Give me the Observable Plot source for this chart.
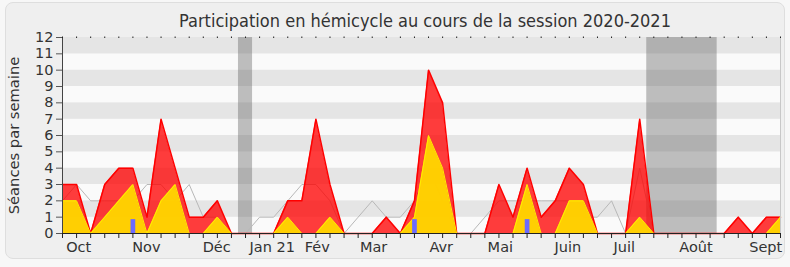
<!DOCTYPE html>
<html><head><meta charset="utf-8">
<script src="https://cdn.jsdelivr.net/npm/d3@7"></script>
<script src="https://cdn.jsdelivr.net/npm/@observablehq/plot@0.6"></script>
<style>
html,body{margin:0;padding:0;background:#f7f7f7;}
body{width:790px;height:267px;overflow:hidden;position:relative;font-family:"DejaVu Sans",sans-serif;}
#panel{position:absolute;left:5px;top:2px;width:778px;height:255px;background:#efefef;border:1px solid #dedede;border-radius:8px;}
#chart{position:relative;}
#title{height:17px;padding-top:11px;line-height:20px;font-size:18px;color:#333;text-align:center;padding-left:60px;white-space:nowrap;font-family:"DejaVu Sans Condensed","DejaVu Sans",sans-serif;font-stretch:condensed;}
#title span{display:inline-block;}
svg{display:block;}
</style></head><body>
<div id="panel"></div>
<div id="chart"><div id="title"><span id="tt">Participation en hémicycle au cours de la session 2020-2021</span></div></div>
<script>
// Weekly values, week 0 = first week of October 2020
const presence      = [3,3,0,3,4,4,1,7,4,1, 1,2,0,0,0,0,2,2,7,3, 0,0,0,1,0,2,10,8,0,0, 0,3,1,4,1,2,4,3,0,0, 0,7,0,0,0,0,0,0,1,0, 1,1];
const interventions = [2,2,0,1,2,3,0,2,3,0, 0,1,0,0,0,0,1,0,0,1, 0,0,0,0,0,1,6,4,0,0, 0,0,0,3,0,0,2,2,0,0, 0,1,0,0,0,0,0,0,0,0, 0,1];
const mediane       = [2,3,2,2,2,2,3,3,2,3, 1,1,0,0,1,1,2,3,3,2, 0,1,2,1,1,2,4,2,0,0, 1,2,2,2,2,2,2,1,1,2, 0,4,0,0,0,0,0,0,0,0, 0,0];
const questionWeeks = [5, 25, 33];
const questionValues = [0.85, 0.85, 0.85];
const vacationStart = [12.5, 41.5];
const vacationEnd   = [13.5, 46.5];
const monthWeeks  = [1.15, 5.96, 10.95, 14.9, 18.1, 22.1, 26.9, 31.1, 35.9, 39.9, 45, 49.95];
const monthLabels = ["Oct","Nov","Déc","Jan 21","Fév","Mar","Avr","Mai","Juin","Juil","Août","Sept"];
const yTicks = [0,1,2,3,4,5,6,7,8,9,10,11,12];

// keep the title at the reference's width whichever DejaVu variant is present
const tt = document.getElementById("tt");
if (tt.getBoundingClientRect().width > 505) {
  document.getElementById("title").style.fontSize = "16.3px";
}

const data = presence.map((p, i) => ({week: i, presence: p, interventions: interventions[i], mediane: mediane[i]}));
const weekTicks = data.map(d => d.week);
const questions = questionWeeks.map((w, i) => ({week: w, n: questionValues[i]}));
const vacances = vacationStart.map((s, i) => ({debut: s, fin: vacationEnd[i]}));
const bands = yTicks.slice(0, -1);
const monthMap = new Map(monthWeeks.map((w, i) => [w, monthLabels[i]]));
const last = presence.length - 1;

const chart = Plot.plot({
  width: 790, height: 239,
  marginLeft: 62, marginRight: 10, marginTop: 9, marginBottom: 34,
  style: {background: "transparent", fontFamily: "DejaVu Sans", fontSize: "14.5px", color: "#333", overflow: "visible"},
  x: {domain: [0, last], label: null},
  y: {domain: [0, 12], label: null},
  marks: [
    Plot.rect(bands, {y1: d => d, y2: d => d + 1, fill: d => d % 2 ? "#e5e5e5" : "#fafafa"}),
    Plot.rect(vacances, {x1: "debut", x2: "fin", fill: "#595959", fillOpacity: 0.38}),
    Plot.line(data, {x: "week", y: "mediane", stroke: "#b8b8b8", strokeWidth: 1}),
    Plot.areaY(data, {x: "week", y: "presence", fill: "#ff0000", fillOpacity: 0.76}),
    Plot.line(data, {x: "week", y: "presence", stroke: "#ff0000", strokeWidth: 1.5}),
    Plot.areaY(data, {x: "week", y: "interventions", fill: "#ffd400", fillOpacity: 0.97}),
    Plot.line(data, {x: "week", y: "interventions", stroke: "#ffee00", strokeWidth: 1}),
    Plot.ruleX(questions, {x: "week", y1: 0, y2: "n", stroke: "#6b6bff", strokeWidth: 4.7}),
    Plot.ruleY([0], {stroke: "#222"}),
    Plot.ruleX([0], {stroke: "#444"}),
    Plot.ruleX([last], {stroke: "#c8c8c8"}),
    Plot.axisY(yTicks, {tickSize: 6, tickPadding: 3, stroke: "#555", fill: "#333", fontSize: 14.5, label: null}),
    Plot.axisX(weekTicks, {anchor: "bottom", tickSize: 5, tickFormat: () => "", stroke: "#222", label: null}),
    Plot.axisX(weekTicks, {anchor: "top", tickSize: 1.5, tickFormat: () => "", stroke: "#222", label: null}),
    Plot.axisX(monthWeeks, {anchor: "bottom", tickSize: 0, tickPadding: 8, tickFormat: d => monthMap.get(d), fill: "#333", fontSize: 14.5, label: null}),
    Plot.text(["Séances par semaine"], {frameAnchor: "left", rotate: -90, dx: -48, text: d => d, fill: "#333", fontSize: 14.7, textAnchor: "middle", lineAnchor: "middle"})
  ]
});
document.getElementById("chart").appendChild(chart);
</script>
</body></html>
